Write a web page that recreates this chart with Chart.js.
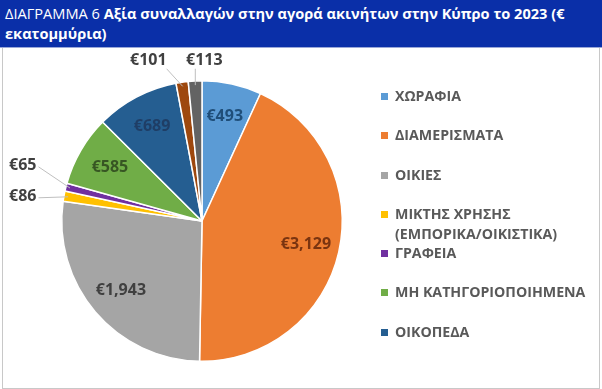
<!DOCTYPE html>
<html>
<head>
<meta charset="utf-8">
<script src="https://cdn.jsdelivr.net/npm/chart.js@4"></script>
<style>
  body { margin: 0; background: #fff; }
  #wrap { position: relative; width: 602px; height: 389px; overflow: hidden; font-family: "Open Sans", sans-serif; }
  #frame { position: absolute; left: 2px; top: 0; width: 596px; height: 387px; border: 1px solid #c8c8c8; }
  #titulo { position: absolute; left: 0; top: 0; width: 602px; height: 48px; background: #0a2fa8; color: #fff;
            font-size: 14.6px; line-height: 20px; padding: 3px 0 0 5px; box-sizing: border-box; border-bottom: 1px solid #9aa8d8; }
  #titulo b { font-weight: 700; }
  #grafico { position: absolute; left: 0; top: 0; }
  #leyenda { position: absolute; left: 381px; top: 86px; width: 220px; font-size: 14.2px; font-weight: 700; color: #595959; }
  .item { height: 39.3px; line-height: 20px; display: flex; white-space: nowrap; }
  .caja { width: 7px; height: 7px; margin: 7px 7px 0 0; flex: none; }
</style>
</head>
<body>
<div id="wrap">
  <div id="frame"></div>
  <canvas id="grafico" width="602" height="389"></canvas>
  <div id="titulo">ΔΙΑΓΡΑΜΜΑ 6 <b>Αξία συναλλαγών στην αγορά ακινήτων στην Κύπρο το 2023 (€<br>εκατομμύρια)</b></div>
  <div id="leyenda"></div>
</div>
<script>
const categorias = ["ΧΩΡΑΦΙΑ", "ΔΙΑΜΕΡΙΣΜΑΤΑ", "ΟΙΚΙΕΣ", ["ΜΙΚΤΗΣ ΧΡΗΣΗΣ", "(ΕΜΠΟΡΙΚΑ/ΟΙΚΙΣΤΙΚΑ)"], "ΓΡΑΦΕΙΑ",
                    "ΜΗ ΚΑΤΗΓΟΡΙΟΠΟΙΗΜΕΝΑ", "ΟΙΚΟΠΕΔΑ", "ΚΑΤΑΣΤΗΜΑΤΑ", "ΒΙΟΜΗΧΑΝΙΚΑ"];
const valores = [493, 3129, 1943, 86, 65, 585, 689, 101, 113];
const etiquetasValor = ["€493", "€3,129", "€1,943", "€86", "€65", "€585", "€689", "€101", "€113"];

const colores = ["#5b9bd5", "#ed7d31", "#a5a5a5", "#ffc000", "#7030a0", "#70ad47", "#255e91", "#9e480e", "#636363"];
const coloresTexto = ["#1f4e79", "#7a3410", "#404040", "#404040", "#404040", "#375623", "#1f3e66", "#404040", "#404040"];

// etiquetas de datos: dentro para porciones grandes, fuera con linea guia para las chicas
const pluginEtiquetas = {
    id: "etiquetas",
    afterDatasetsDraw(chart) {
        const ctx = chart.ctx;
        const meta = chart.getDatasetMeta(0);
        const total = valores.reduce((a, b) => a + b, 0);
        const arriba = [];
        const izquierda = [];
        ctx.save();
        ctx.font = "bold 16px 'Open Sans'";
        ctx.textBaseline = "middle";
        ctx.textAlign = "center";
        meta.data.forEach((arc, i) => {
            const p = arc.getProps(["x", "y", "startAngle", "endAngle", "outerRadius"], true);
            const medio = (p.startAngle + p.endAngle) / 2;
            if (valores[i] / total > 0.03) {
                const r = p.outerRadius * 0.76;
                ctx.fillStyle = coloresTexto[i];
                ctx.fillText(etiquetasValor[i], p.x + Math.cos(medio) * r, p.y + Math.sin(medio) * r);
            } else {
                const ax = p.x + Math.cos(medio) * p.outerRadius * 0.97;
                const ay = p.y + Math.sin(medio) * p.outerRadius * 0.97;
                const o = { i, ax, ay, cx: p.x, cy: p.y, R: p.outerRadius };
                if (Math.sin(medio) < -0.85) arriba.push(o); else izquierda.push(o);
            }
        });
        ctx.strokeStyle = "#bfbfbf";
        ctx.lineWidth = 1;
        // arriba: de derecha a izquierda
        arriba.sort((a, b) => b.ax - a.ax);
        let prevX = null;
        arriba.forEach(o => {
            let x = prevX === null ? o.ax + 9 : Math.min(o.ax, prevX - 56);
            const y = o.cy - o.R - 20;
            prevX = x;
            const w = ctx.measureText(etiquetasValor[o.i]).width;
            const sx = Math.max(x - w / 2, Math.min(o.ax, x + w / 2));
            ctx.beginPath();
            ctx.moveTo(sx, y + 8);
            ctx.lineTo(o.ax, o.ay);
            ctx.stroke();
            ctx.fillStyle = coloresTexto[o.i];
            ctx.fillText(etiquetasValor[o.i], x, y);
        });
        // izquierda: de abajo hacia arriba
        izquierda.sort((a, b) => b.ay - a.ay);
        let prevY = null;
        izquierda.forEach(o => {
            let y = prevY === null ? o.ay : Math.min(o.ay, prevY - 31);
            prevY = y;
            const x = o.cx - o.R - 39;
            const w = ctx.measureText(etiquetasValor[o.i]).width;
            ctx.beginPath();
            ctx.moveTo(x + w / 2 + 2, y + 1);
            ctx.lineTo(o.ax, o.ay);
            ctx.stroke();
            ctx.fillStyle = coloresTexto[o.i];
            ctx.fillText(etiquetasValor[o.i], x, y);
        });
        ctx.restore();
    }
};

const grafico = new Chart(document.getElementById("grafico"), {
    type: "pie",
    data: {
        labels: categorias,
        datasets: [{
            data: valores,
            backgroundColor: colores,
            borderColor: "#ffffff",
            borderWidth: 1.5
        }]
    },
    options: {
        responsive: false,
        animation: false,
        layout: { padding: { top: 80, bottom: 27, left: 61, right: 259 } },
        plugins: {
            legend: { display: false },
            tooltip: { enabled: false }
        }
    },
    plugins: [pluginEtiquetas]
});

// leyenda html (en el original solo se ven las 7 primeras)
const leyenda = document.getElementById("leyenda");
categorias.slice(0, 7).forEach((c, i) => {
    const item = document.createElement("div");
    item.className = "item";
    const texto = Array.isArray(c) ? c.join("<br>") : c;
    item.innerHTML = `<span class="caja" style="background:${colores[i]}"></span><span>${texto}</span>`;
    leyenda.appendChild(item);
});
</script>
</body>
</html>
